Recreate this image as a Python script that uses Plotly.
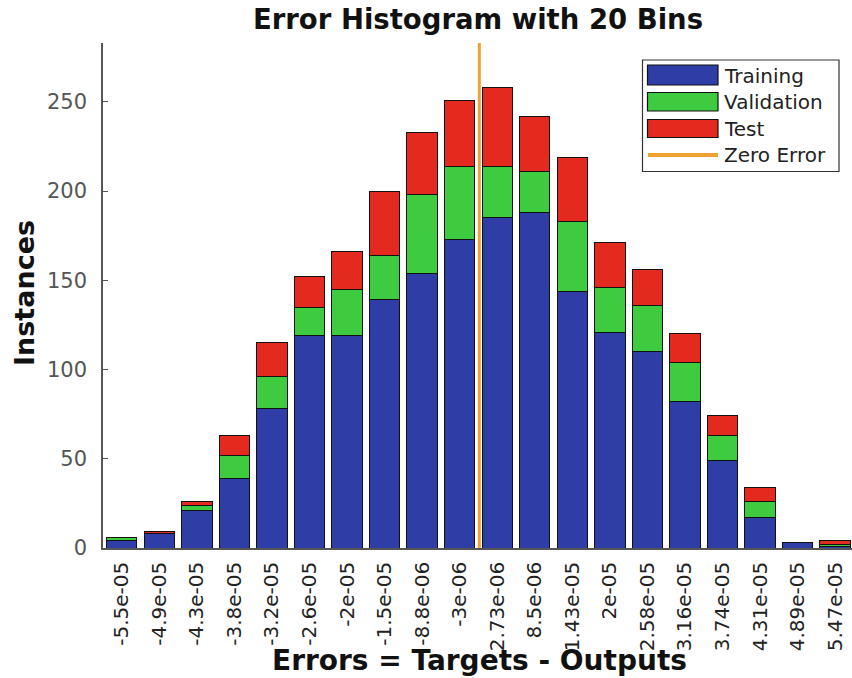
import numpy as np
import plotly.graph_objects as go

# ---------------- data ----------------
bin_labels = ["-5.5e-05", "-4.9e-05", "-4.3e-05", "-3.8e-05", "-3.2e-05",
              "-2.6e-05", "-2e-05", "-1.5e-05", "-8.8e-06", "-3e-06",
              "2.73e-06", "8.5e-06", "1.43e-05", "2e-05", "2.58e-05",
              "3.16e-05", "3.74e-05", "4.31e-05", "4.89e-05", "5.47e-05"]
bin_centers = [float(s) for s in bin_labels]
training = [4, 8, 21, 39, 78, 119, 119, 139, 154, 173, 185, 188, 144, 121, 110, 82, 49, 17, 3, 1]
validation = [2, 0, 3, 13, 18, 16, 26, 25, 44, 41, 29, 23, 39, 25, 26, 22, 14, 9, 0, 1]
test = [0, 1, 2, 11, 19, 17, 21, 36, 35, 37, 44, 31, 36, 25, 20, 16, 11, 8, 0, 2]
series_names = ["Training", "Validation", "Test", "Zero Error"]
y_ticks = [0, 50, 100, 150, 200, 250]
y_max = 283

# ---------------- style ----------------
BLUE = "#2F3DA6"
GREEN = "#3FCB3F"
RED = "#E4291F"
ORANGE = "#EFA232"
FONT = "DejaVu Sans"

W, H = 852, 678
ML, MR, MT, MB = 103, 0, 43, 130
PW, PH = W - ML - MR, H - MT - MB

def px(x):
    return (x - ML) / PW

def py(y):
    return (H - MB - y) / PH

idx = np.arange(len(bin_labels))
zero_pos = float(np.interp(0.0, bin_centers, idx))

fig = go.Figure()
for vals, name, col in [(training, series_names[0], BLUE),
                        (validation, series_names[1], GREEN),
                        (test, series_names[2], RED)]:
    fig.add_trace(go.Bar(x=idx, y=vals, name=name, marker_color=col,
                         marker_line_color="#111111", marker_line_width=1,
                         showlegend=False))

# zero error line
fig.add_shape(type="line", xref="x", yref="y", x0=zero_pos, x1=zero_pos,
              y0=0, y1=y_max, line=dict(color=ORANGE, width=3), layer="above")

# custom legend (MATLAB style)
fig.add_shape(type="rect", xref="paper", yref="paper",
              x0=px(642.5), x1=px(839), y0=py(60), y1=py(171.5),
              line=dict(color="#333333", width=1.2), fillcolor="white", layer="above")
sw_rows = [(65, 85), (92.5, 111), (119.5, 137.5)]
for (t, b), col in zip(sw_rows, [BLUE, GREEN, RED]):
    fig.add_shape(type="rect", xref="paper", yref="paper",
                  x0=px(647.5), x1=px(718), y0=py(b), y1=py(t),
                  line=dict(color="#111111", width=1.2), fillcolor=col, layer="above")
fig.add_shape(type="line", xref="paper", yref="paper",
              x0=px(648), x1=px(718), y0=py(155), y1=py(155),
              line=dict(color=ORANGE, width=4), layer="above")
for name, yc in zip(series_names, [76, 102, 128.5, 155]):
    fig.add_annotation(text=name, xref="paper", yref="paper",
                       x=px(722), y=py(yc), xanchor="left", yanchor="middle",
                       showarrow=False, font=dict(family=FONT, size=20, color="#222222"))

# axis titles
fig.add_annotation(text="Instances", xref="paper", yref="paper",
                   x=px(24), y=py(293), textangle=-90, showarrow=False,
                   xanchor="center", yanchor="middle",
                   font=dict(family=FONT, size=27, color="#111111", weight="bold"))
fig.add_annotation(text="Errors = Targets - Outputs", xref="paper", yref="paper",
                   x=px(479), y=py(660), showarrow=False,
                   xanchor="center", yanchor="middle",
                   font=dict(family=FONT, size=28, color="#111111", weight="bold"))

fig.update_layout(
    width=W, height=H,
    margin=dict(l=ML, r=MR, t=MT, b=MB, pad=0),
    paper_bgcolor="white", plot_bgcolor="white",
    barmode="stack", bargap=0.19,
    title=dict(text="Error Histogram with 20 Bins", x=478 / W,
               xanchor="center", xref="container", y=1 - 19 / H, yanchor="middle",
               yref="container",
               font=dict(family=FONT, size=27.5, color="#111111", weight="bold")),
    font=dict(family=FONT),
    showlegend=False,
)

fig.update_xaxes(range=[-0.5, 19.45], tickmode="array", tickvals=idx, ticktext=bin_labels,
                 tickangle=-90, showgrid=False, zeroline=False,
                 showline=True, linecolor="#555555", linewidth=1.5,
                 ticks="", ticklabelstandoff=4,
                 tickfont=dict(family=FONT, size=20, color="#222222"))
fig.update_yaxes(range=[0, y_max], tickmode="array", tickvals=y_ticks,
                 showgrid=False, zeroline=False,
                 showline=True, linecolor="#555555", linewidth=1.5,
                 ticks="inside", ticklen=5, tickcolor="#555555",
                 ticklabelstandoff=10,
                 tickfont=dict(family=FONT, size=21, color="#555555"))

fig.write_html("out.html")
